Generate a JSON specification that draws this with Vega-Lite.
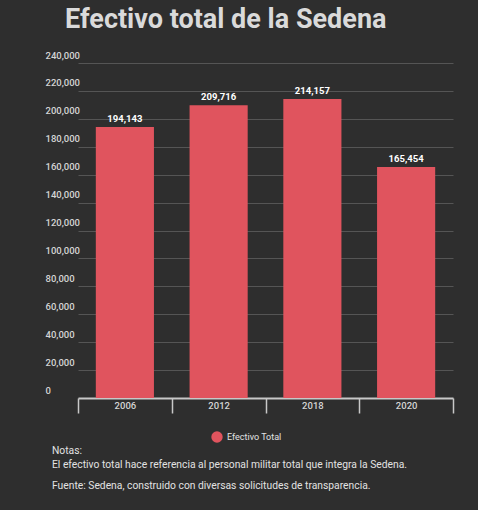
{
  "$schema": "https://vega.github.io/schema/vega-lite/v6.json",
  "background": "#2e2e2e",
  "padding": {"left": 45, "top": 6, "right": 25, "bottom": 18},
  "title": {
    "text": "Efectivo total de la Sedena",
    "anchor": "start",
    "dx": 20,
    "font": "Roboto",
    "fontSize": 27,
    "fontWeight": "bold",
    "color": "#dadada",
    "offset": 16
  },
  "vconcat": [
    {
      "width": 408,
      "height": 335,
      "title": {
        "text": ["Notas:", "El efectivo total hace referencia al personal militar total que integra la Sedena."],
        "subtitle": "Fuente: Sedena, construido con diversas solicitudes de transparencia.",
        "orient": "bottom",
        "anchor": "start",
        "dx": 7,
        "offset": 32,
        "font": "Roboto",
        "fontSize": 10.3,
        "fontWeight": "normal",
        "color": "#e2e2e2",
        "lineHeight": 14,
        "subtitleFont": "Roboto",
        "subtitleFontSize": 10.3,
        "subtitleFontWeight": "normal",
        "subtitleColor": "#e2e2e2",
        "subtitlePadding": 11
      },
      "data": {
        "values": [
          {"anio": "2006", "efectivo": 194143, "serie": "Efectivo Total"},
          {"anio": "2012", "efectivo": 209716, "serie": "Efectivo Total"},
          {"anio": "2018", "efectivo": 214157, "serie": "Efectivo Total"},
          {"anio": "2020", "efectivo": 165454, "serie": "Efectivo Total"}
        ]
      },
      "encoding": {
        "x": {
          "field": "anio",
          "type": "nominal",
          "scale": {"range": [33, 408], "paddingInner": 0, "paddingOuter": 0},
          "axis": {
            "title": null,
            "labelAngle": 0,
            "tickBand": "extent",
            "tickSize": 15,
            "tickColor": "#c8c8c8",
            "tickWidth": 1.5,
            "domain": false,
            "grid": false,
            "labelPadding": -13,
            "labelColor": "#d4d4d4",
            "labelFont": "Roboto",
            "labelFontSize": 9.5,
            "labelFontWeight": 500
          }
        },
        "y": {
          "field": "efectivo",
          "type": "quantitative",
          "scale": {"domain": [0, 240000], "nice": false},
          "axis": {
            "title": null,
            "values": [0, 20000, 40000, 60000, 80000, 100000, 120000, 140000, 160000, 180000, 200000, 220000, 240000],
            "format": ",.0f",
            "labelOverlap": false,
            "domain": false,
            "ticks": false,
            "tickSize": 0,
            "labelAlign": "left",
            "labelBaseline": "bottom",
            "labelPadding": 0,
            "labelOffset": -3,
            "labelColor": "#d4d4d4",
            "labelFont": "Roboto",
            "labelFontSize": 9.5,
            "labelFontWeight": 500,
            "gridColor": {"condition": {"test": "datum.value === 0", "value": "#c8c8c8"}, "value": "#555555"},
            "gridWidth": {"condition": {"test": "datum.value === 0", "value": 2}, "value": 1}
          }
        }
      },
      "layer": [
        {
          "mark": {"type": "bar", "width": {"band": 0.62}},
          "encoding": {
            "color": {
              "field": "serie",
              "type": "nominal",
              "scale": {"range": ["#e0545e"]},
              "legend": {
                "title": null,
                "orient": "none",
                "legendX": 166,
                "legendY": 368,
                "direction": "horizontal",
                "symbolType": "circle",
                "symbolSize": 130,
                "symbolStrokeWidth": 0,
                "labelColor": "#e2e2e2",
                "labelFont": "Roboto",
                "labelFontSize": 9
              }
            }
          }
        },
        {
          "mark": {"type": "text", "baseline": "bottom", "dy": -3, "font": "Roboto", "fontSize": 9.5, "fontWeight": "bold", "color": "#ffffff"},
          "encoding": {
            "text": {"field": "efectivo", "type": "quantitative", "format": ","}
          }
        }
      ]
    }
  ],
  "config": {
    "view": {"stroke": null},
    "font": "Roboto"
  }
}
